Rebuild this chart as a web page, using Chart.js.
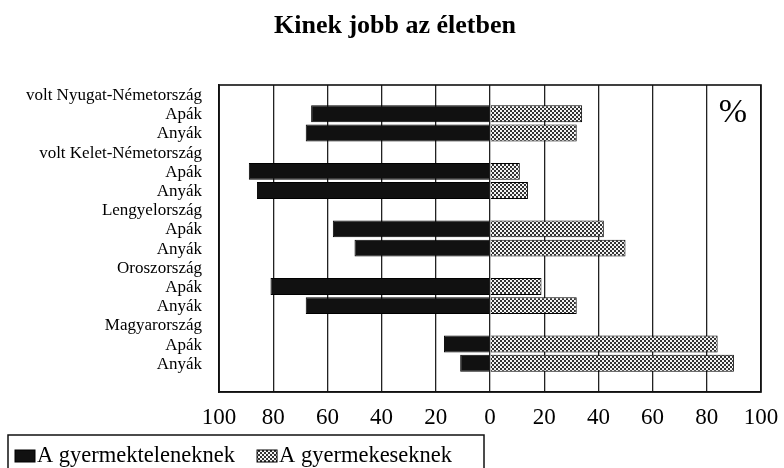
<!DOCTYPE html>
<html>
<head>
<meta charset="utf-8">
<script src="https://cdn.jsdelivr.net/npm/chart.js@4.4.1/dist/chart.umd.min.js"></script>
<style>
  html, body { margin: 0; padding: 0; background: #fff; }
  #wrap { width: 784px; height: 468px; }
</style>
</head>
<body>
<div id="wrap"><canvas id="grafikon" width="784" height="468"></canvas></div>
<script>
// sorok: országok (üres sor) + Apák / Anyák, a végén egy üres sor
const kategoriak = [
  'volt Nyugat-Németország', 'Apák', 'Anyák',
  'volt Kelet-Németország', 'Apák', 'Anyák',
  'Lengyelország', 'Apák', 'Anyák',
  'Oroszország', 'Apák', 'Anyák',
  'Magyarország', 'Apák', 'Anyák',
  ''
];

// balra mutató (negatív) oszlopok
const gyermektelenek = [null, -66, -68, null, -89, -86, null, -58, -50, null, -81, -68, null, -17, -11, null];
// jobbra mutató oszlopok
const gyermekesek = [null, 34, 32, null, 11, 14, null, 42, 50, null, 19, 32, null, 84, 90, null];

const cim = 'Kinek jobb az életben';

const SERIF = "'Liberation Serif', 'Times New Roman', serif";

// pontozott/sakktábla minta a gyermekesek oszlopaihoz
function mintazat() {
  const c = document.createElement('canvas');
  c.width = 4; c.height = 4;
  const g = c.getContext('2d');
  g.fillStyle = '#f4f4f4';
  g.fillRect(0, 0, 4, 4);
  g.fillStyle = '#333';
  g.fillRect(0, 0, 2, 2);
  g.fillRect(2, 2, 2, 2);
  return g.createPattern(c, 'repeat');
}
const minta = mintazat();

// cím, keret, % jel és saját jelmagyarázat
const rajzolo = {
  id: 'rajzolo',
  afterDraw(chart) {
    const ctx = chart.ctx;
    const a = chart.chartArea;
    ctx.save();
    ctx.strokeStyle = '#111';
    ctx.lineWidth = 1.6;
    ctx.strokeRect(a.left, a.top, a.right - a.left, a.bottom - a.top);

    ctx.fillStyle = '#000';
    ctx.font = 'bold 26px ' + SERIF;
    ctx.textAlign = 'center';
    ctx.textBaseline = 'alphabetic';
    ctx.fillText(cim, 395, 33);

    ctx.font = '34px ' + SERIF;
    ctx.textBaseline = 'middle';
    ctx.fillText('%', a.right - 28, a.top + 28);

    // jelmagyarázat
    ctx.font = '22.5px ' + SERIF;
    ctx.textAlign = 'left';
    let x = 15;
    const y = 456;
    chart.data.datasets.forEach(ds => {
      ctx.fillStyle = ds.backgroundColor;
      ctx.fillRect(x, y - 6, 20, 12);
      ctx.strokeStyle = '#000';
      ctx.lineWidth = 1;
      ctx.strokeRect(x, y - 6, 20, 12);
      ctx.fillStyle = '#000';
      ctx.fillText(ds.label, x + 22, y);
      x += 22 + ctx.measureText(ds.label).width + 22;
    });
    ctx.strokeStyle = '#111';
    ctx.lineWidth = 1.5;
    ctx.strokeRect(8, 435, 476, 45);
    ctx.restore();
  }
};

new Chart(document.getElementById('grafikon'), {
  type: 'bar',
  data: {
    labels: kategoriak,
    datasets: [
      {
        label: 'A gyermekteleneknek',
        data: gyermektelenek,
        backgroundColor: '#111',
        borderColor: '#000',
        borderWidth: 1
      },
      {
        label: 'A gyermekeseknek',
        data: gyermekesek,
        backgroundColor: minta,
        borderColor: '#000',
        borderWidth: 1
      }
    ]
  },
  options: {
    indexAxis: 'y',
    responsive: false,
    animation: false,
    barPercentage: 0.88,
    categoryPercentage: 1,
    layout: { padding: { left: 5, right: 23, top: 85, bottom: 41 } },
    scales: {
      x: {
        stacked: true,
        min: -100,
        max: 100,
        ticks: {
          stepSize: 20,
          color: '#000',
          font: { family: SERIF, size: 23 },
          padding: 12,
          callback: v => Math.abs(v)
        },
        grid: { color: '#222', lineWidth: 1.3, drawTicks: false },
        border: { color: '#111', width: 1.6 },
        afterFit: s => { s.height = 35; s.paddingLeft = 0; s.paddingRight = 0; }
      },
      y: {
        stacked: true,
        ticks: {
          color: '#000',
          font: { family: SERIF, size: 17 },
          padding: 17,
          labelOffset: 1,
          autoSkip: false
        },
        grid: { display: false, drawTicks: false },
        border: { color: '#111', width: 1.6 },
        afterFit: s => { s.width = 214; s.paddingTop = 0; s.paddingBottom = 0; }
      }
    },
    plugins: {
      legend: { display: false },
      tooltip: { enabled: false },
      title: { display: false }
    }
  },
  plugins: [rajzolo]
});
</script>
</body>
</html>
